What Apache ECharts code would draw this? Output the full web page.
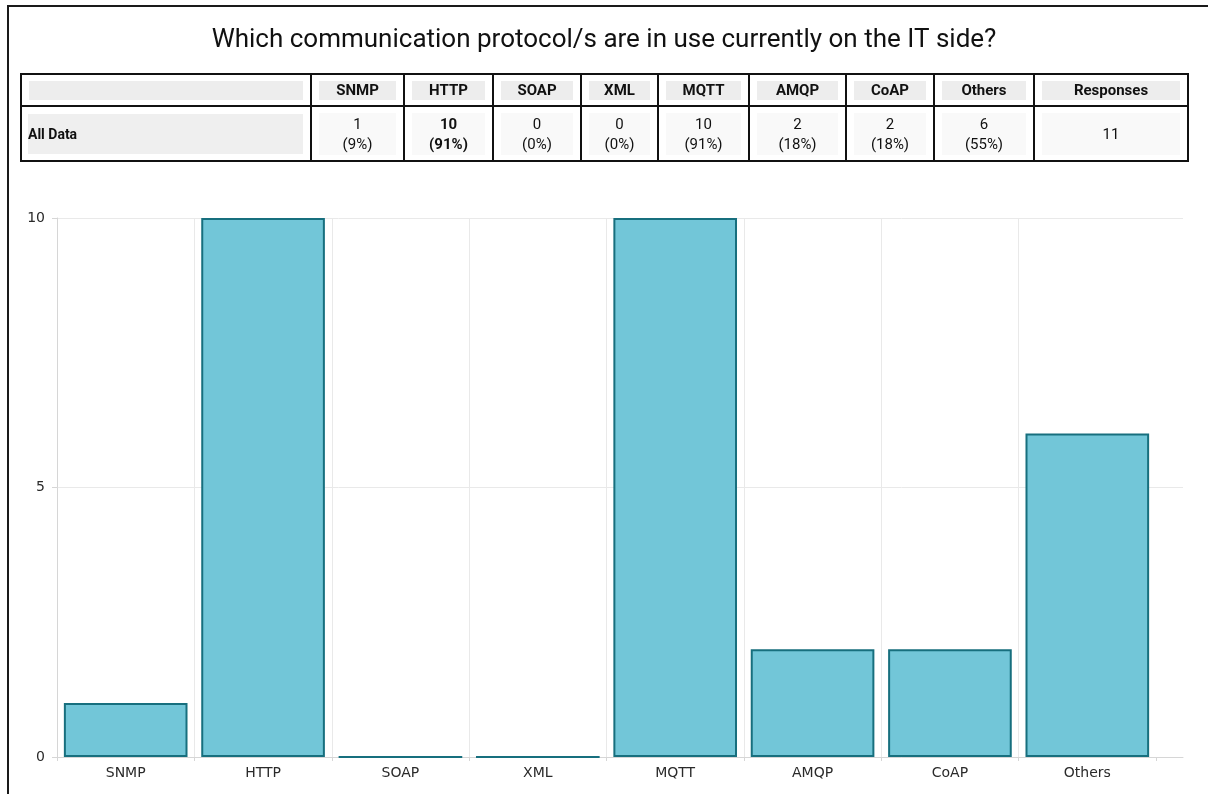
<!DOCTYPE html>
<html>
<head>
<meta charset="utf-8">
<script src="https://cdn.jsdelivr.net/npm/echarts@6/dist/echarts.min.js"></script>
<style>
  html, body { margin: 0; padding: 0; background: #fff; }
  #frame { position: absolute; left: 7px; top: 5px; width: 1201px; height: 789px;
           border-top: 2px solid #1a1a1a; border-left: 2px solid #1a1a1a; box-sizing: border-box; }
  #chart { position: absolute; left: 0; top: 0; width: 1208px; height: 794px; }
  #tbl { position: absolute; left: 20px; top: 73px; width: 1167px; border-collapse: collapse;
         table-layout: fixed; font-family: Roboto, sans-serif; font-size: 15px; color: #111; }
  #tbl td { border: 2px solid #111; padding: 0; text-align: center; vertical-align: middle; }
  #tbl tr.head td { height: 30px; }
  #tbl tr.body td { height: 53px; }
  .hbox { display: block; margin: 0 7px; height: 19px; line-height: 19px; background: #ededed; font-weight: bold; }
  .dbox { display: block; margin: 0 7px; height: 42px; background: #f9f9f9; line-height: 20px; padding-top: 1px; box-sizing: border-box; }
  .dbox.one { line-height: 42px; padding-top: 0; }
  .lbox { display: block; margin: 0 7px 0 6px; height: 40px; line-height: 40px; background: #efefef;
          text-align: left; font-weight: bold; font-size: 14px; }
  .bold { font-weight: bold; }
</style>
</head>
<body>
<div id="chart"></div>
<div id="frame"></div>
<table id="tbl"></table>
<script>
// Survey question and answers
const titleText = 'Which communication protocol/s are in use currently on the IT side?';
const categories = ['SNMP', 'HTTP', 'SOAP', 'XML', 'MQTT', 'AMQP', 'CoAP', 'Others'];
const counts = [1, 10, 0, 0, 10, 2, 2, 6];
const responses = 11;
const rowLabel = 'All Data';
const responsesLabel = 'Responses';
const boldCategories = ['HTTP'];
const yMin = 0, yMax = 10, yStep = 5;

// Summary table above the chart
const colWidths = [290, 93, 89, 88, 77, 91, 97, 88, 100, 154];
const tbl = document.getElementById('tbl');
const cg = document.createElement('colgroup');
colWidths.forEach(w => { const c = document.createElement('col'); c.style.width = w + 'px'; cg.appendChild(c); });
tbl.appendChild(cg);

const head = document.createElement('tr');
head.className = 'head';
let h = '<td><span class="hbox"></span></td>';
categories.forEach(c => { h += '<td><span class="hbox">' + c + '</span></td>'; });
h += '<td><span class="hbox">' + responsesLabel + '</span></td>';
head.innerHTML = h;
tbl.appendChild(head);

const body = document.createElement('tr');
body.className = 'body';
let b = '<td><span class="lbox">' + rowLabel + '</span></td>';
categories.forEach((c, i) => {
  const pct = Math.round(counts[i] / responses * 100);
  const cls = boldCategories.indexOf(c) >= 0 ? 'dbox bold' : 'dbox';
  b += '<td><span class="' + cls + '">' + counts[i] + '<br>(' + pct + '%)</span></td>';
});
b += '<td><span class="dbox one">' + responses + '</span></td>';
body.innerHTML = b;
tbl.appendChild(body);

// Bar chart
const chart = echarts.init(document.getElementById('chart'));
const gridLine = '#e9e9e9';
const axisGray = '#d6d6d6';
chart.setOption({
  animation: false,
  title: {
    text: titleText,
    left: 'center',
    top: 22,
    textStyle: { fontFamily: 'Roboto', fontSize: 26, fontWeight: 'normal', color: '#111' }
  },
  grid: [
    { left: 57, right: 25, top: 218, bottom: 37 },
    { left: 57, right: 52, top: 218, bottom: 37 }
  ],
  xAxis: [
    {
      gridIndex: 0, type: 'value', min: 0, max: 1,
      axisLine: { show: true, lineStyle: { color: axisGray } },
      axisTick: { show: false }, axisLabel: { show: false }, splitLine: { show: false }
    },
    {
      gridIndex: 1, type: 'category', data: categories,
      axisLine: { show: false },
      axisTick: { show: true, length: 4, lineStyle: { color: axisGray } },
      axisLabel: { margin: 9, fontFamily: 'DejaVu Sans', fontSize: 14, color: '#2a2a2a' },
      splitLine: { show: true, showMaxLine: false, lineStyle: { color: gridLine } }
    }
  ],
  yAxis: [
    {
      gridIndex: 0, type: 'value', min: yMin, max: yMax, interval: yStep,
      axisLine: { show: true, lineStyle: { color: axisGray } },
      axisTick: { show: true, length: 5, lineStyle: { color: axisGray } },
      axisLabel: { margin: 12, fontFamily: 'DejaVu Sans', fontSize: 14, color: '#2a2a2a' },
      splitLine: { show: true, lineStyle: { color: gridLine } }
    },
    { gridIndex: 1, type: 'value', min: yMin, max: yMax, interval: yStep, show: false }
  ],
  series: [{
    type: 'bar',
    xAxisIndex: 1, yAxisIndex: 1,
    data: counts,
    clip: false,
    barCategoryGap: '10%',
    itemStyle: { color: '#72c6d8', borderColor: '#176f7e', borderWidth: 2 }
  }]
});
</script>
</body>
</html>
